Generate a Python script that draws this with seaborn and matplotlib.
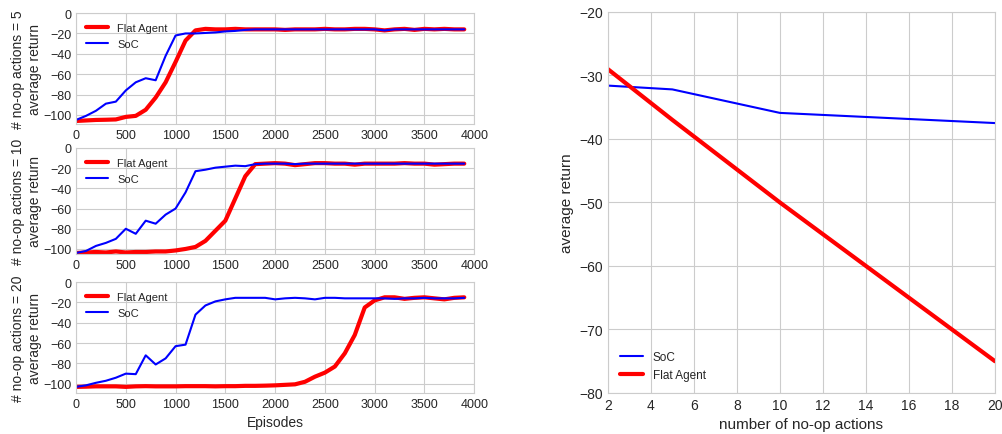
import numpy as np
import pandas as pd
import matplotlib
matplotlib.use("Agg")
import matplotlib.pyplot as plt
import seaborn as sns

episodes = list(range(0, 4000, 100))

flat_5 = [-106, -105.5, -105, -104.8, -104.5, -102, -101, -95, -83, -68,
          -48, -27, -17, -15.5, -16, -16, -15.5, -16, -16, -16,
          -16, -16.5, -16, -16, -16, -15.5, -16, -16, -15.5, -15.5,
          -16, -17, -16, -15.5, -16.5, -15.5, -16, -15.5, -16, -16]
soc_5 = [-105, -101, -96, -89, -87, -76, -68, -64, -66, -42,
         -22, -20, -20, -19.5, -19, -18, -17.5, -16.5, -16, -16,
         -16, -16, -16, -16, -16, -16, -16, -16, -16, -16,
         -16, -17, -16, -16, -16, -16, -16, -16, -16, -16]

flat_10 = [-104, -103.5, -103, -103.5, -102.5, -103.5, -103, -103, -102.5, -102.5,
           -101.5, -100, -98, -92, -82, -72, -50, -28, -16, -15.5,
           -15, -15.5, -17, -16, -15, -15, -15.5, -15.5, -16.5, -15.5,
           -15.5, -15.5, -15.5, -15, -15.5, -15.5, -16.5, -16, -15.5, -15.5]
soc_10 = [-104, -102, -97, -94, -90, -80, -85, -72, -75, -66,
          -60, -44, -23, -21.5, -19.5, -18.5, -17.5, -18, -16, -15.5,
          -15.5, -15.5, -16, -15.5, -15.5, -15.5, -15.5, -15.5, -15.5, -15.5,
          -15.5, -15.5, -15.5, -15.5, -15.5, -15.5, -15.5, -15.5, -15.5, -15.5]

flat_20 = [-103, -102.8, -102.5, -102.5, -102.5, -103, -102.5, -102.3, -102.5, -102.5,
           -102.5, -102.3, -102.3, -102.3, -102.5, -102.3, -102.3, -102, -102, -101.8,
           -101.5, -101, -100.5, -98, -93, -89, -83, -70, -52, -25,
           -18, -15, -15, -16.5, -15.5, -15, -16, -17, -15.5, -15]
soc_20 = [-103, -101.5, -99, -97, -94, -90, -90.5, -72, -81, -75,
          -63, -61.5, -32, -23, -19, -17, -15.5, -15.5, -15.5, -15.5,
          -17, -16, -15.5, -16, -17, -15.5, -15.5, -16, -16, -16,
          -16, -16, -16.5, -16, -16, -15.5, -16, -16, -16, -15.5]

noop_actions = [2, 5, 10, 20]
soc_final = [-31.6, -32.2, -35.9, -37.5]
flat_final = [-29, -37, -50, -75]

sns.set_style("whitegrid")
plt.rcParams['font.family'] = ['Liberation Sans', 'DejaVu Sans']

fig = plt.figure(figsize=(10.03, 4.35), dpi=100)

panels = [
    (5, flat_5, soc_5, [0.0758, 0.7126, 0.397, 0.255]),
    (10, flat_10, soc_10, [0.0758, 0.4138, 0.397, 0.2437]),
    (20, flat_20, soc_20, [0.0758, 0.0943, 0.397, 0.255]),
]

for n, flat, soc, rect in panels:
    ax = fig.add_axes(rect)
    df = pd.DataFrame({"ep": episodes, "flat": flat, "soc": soc})
    sns.lineplot(data=df, x="ep", y="flat", ax=ax, color="red", lw=3, label="Flat Agent")
    sns.lineplot(data=df, x="ep", y="soc", ax=ax, color="blue", lw=1.5, label="SoC")
    ax.set_xlim(0, 4000)
    ax.set_ylim(-109 if n != 10 else -105, 0)
    ax.set_xticks(range(0, 4001, 500))
    ax.set_yticks(range(-100, 1, 20))
    ax.tick_params(labelsize=9, length=0, pad=3.5)
    ax.set_ylabel(f"# no-op actions = {n}\naverage return", fontsize=10, labelpad=1)
    ax.set_xlabel("Episodes" if n == 20 else "", fontsize=10)
    ax.legend(loc="upper left", fontsize=8, frameon=False)

ax = fig.add_axes([0.606, 0.0943, 0.386, 0.876])
df2 = pd.DataFrame({"n": noop_actions, "soc": soc_final, "flat": flat_final})
sns.lineplot(data=df2, x="n", y="soc", ax=ax, color="blue", lw=1.5, label="SoC")
sns.lineplot(data=df2, x="n", y="flat", ax=ax, color="red", lw=3, label="Flat Agent")
ax.set_xlim(2, 20)
ax.set_ylim(-80, -20)
ax.set_xticks(range(2, 21, 2))
ax.set_yticks(range(-80, -19, 10))
ax.tick_params(labelsize=10, length=0, pad=3.5)
ax.set_xlabel("number of no-op actions", fontsize=11)
ax.set_ylabel("average return", fontsize=11)
ax.legend(loc="lower left", fontsize=8.5, frameon=False, borderaxespad=0.6)

plt.savefig("out.png", dpi=100)
